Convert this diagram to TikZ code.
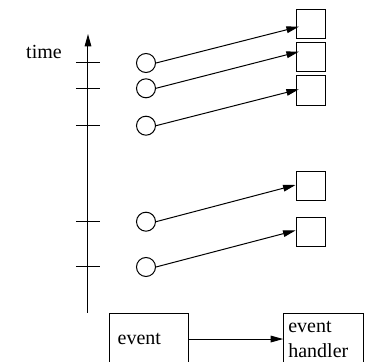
\documentclass[tikz,border=0pt]{standalone}
\usepackage{fontspec}
\setmainfont{Liberation Serif}
\usetikzlibrary{arrows.meta}

\begin{document}
\begin{tikzpicture}[
    x=0.6pt, y=-0.6pt, line width=0.6pt,
    font=\fontsize{12pt}{15pt}\selectfont,
    occurrence/.style={circle, draw, minimum size=11.4pt, inner sep=0pt},
    handler/.style={rectangle, draw, minimum size=17.7pt, inner sep=0pt},
    block/.style={rectangle, draw, anchor=north, minimum height=31pt, align=left},
    arrow/.style={-{Triangle[length=7.5pt,width=4pt]}}
]
    \useasboundingbox (0,0) rectangle (369,362);

    % Zeitachse
    \coordinate (t0) at (88,313);
    \coordinate (t1) at (88,34);
    \draw[arrow] (t0) -- (t1);
    \node[anchor=base] (time) at (44,59) {time};

    % Ereignisse
    \node[occurrence] (e1) at (146,63) {};
    \node[occurrence] (e2) at (146,88.3) {};
    \node[occurrence] (e3) at (146,125.7) {};
    \node[occurrence] (e4) at (146,221.7) {};
    \node[occurrence] (e5) at (146,267) {};

    % Markierungen
    \draw (76,63) -- (100,63);
    \draw (76,88.3) -- (100,88.3);
    \draw (76,125.7) -- (100,125.7);
    \draw (76,221.7) -- (100,221.7);
    \draw (76,267) -- (100,267);

    % Handler
    \node[handler] (h1) at (310.8,24) {};
    \node[handler] (h2) at (310.8,57) {};
    \node[handler] (h3) at (310.8,90.3) {};
    \node[handler] (h4) at (310.8,186) {};
    \node[handler] (h5) at (310.8,231.8) {};

    % Zuordnungen
    \draw[arrow] (e1.east) -- ([xshift=2pt, yshift=-1.6pt]h1.west);
    \draw[arrow] (e2.east) -- ([xshift=2pt, yshift=3.2pt]h2.west);
    \draw[arrow] (e3.east) -- ([xshift=2pt, yshift=0.6pt]h3.west);
    \draw[arrow] (e4.east) -- ([yshift=0.6pt]h4.west);
    \draw[arrow] (e5.east) -- ([yshift=0.8pt]h5.west);

    % Legende
    \node[block, text width=37.6pt, inner xsep=4.8pt] (ev) at (149,312.7) {event};
    \node[block, text width=42.2pt, inner xsep=2.8pt] (eh) at (323.5,312.7) {event\\handler};
    \draw[arrow] (ev) -- (eh);
\end{tikzpicture}
\end{document}
